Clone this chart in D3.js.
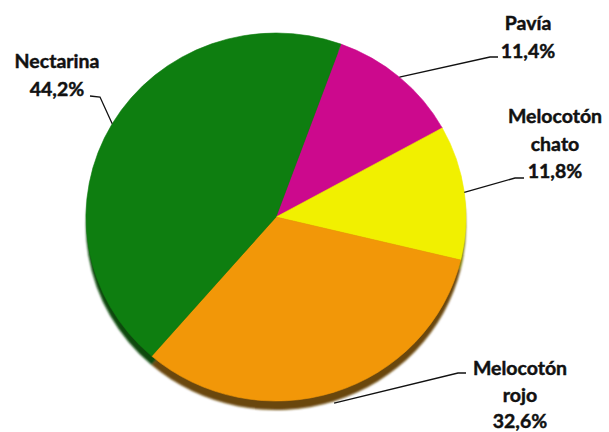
<!DOCTYPE html>
<html>
<head>
<meta charset="utf-8">
<script src="https://cdn.jsdelivr.net/npm/d3@7"></script>
<style>
  html, body { margin: 0; padding: 0; background: #fff; }
  svg { display: block; }
  text { font-family: Lato, "Open Sans", sans-serif; font-weight: 700; fill: #111; stroke: #111; stroke-width: 0.45px; }
</style>
</head>
<body>
<svg id="chart" width="609" height="432"></svg>
<script>
// Share of each peach variety (%), clockwise from the first slice
const categories = ["Pavía", "Melocotón chato", "Melocotón rojo", "Nectarina"];
const labelLines = [["Pavía"], ["Melocotón", "chato"], ["Melocotón", "rojo"], ["Nectarina"]];
const values = [11.4, 11.8, 32.6, 44.2];
const colors = ["#cc098d", "#f1f000", "#f29708", "#0e7e10"];
const sideColors = ["#6a0548", "#7a7800", "#6b4708", "#0a4a0a"];

// Label placement: block centre x, first baseline y, line gap, leader elbow
const labelLayout = [
  { x: 528, y: 30, gap: 27.5, elbow: [490, 57], start: [498, 57] },
  { x: 555, y: 123, gap: 27.5, elbow: [515, 178], start: [524, 178] },
  { x: 520, y: 375, gap: 26.5, elbow: [458, 373], start: [466, 373] },
  { x: 57, y: 68, gap: 27.5, elbow: [100, 97], start: [90, 96] }
];

const width = 609, height = 432;
const cx = 276, cy = 217, rx = 190, ry = 184, depth = 9;
const startDeg = 20;

const svg = d3.select("#chart");
const defs = svg.append("defs");
defs.append("filter").attr("id", "soft")
  .attr("x", "-10%").attr("y", "-10%").attr("width", "120%").attr("height", "120%")
  .append("feGaussianBlur").attr("stdDeviation", 1.2);

const pie = d3.pie().sort(null).value(d => d)
  .startAngle(startDeg * Math.PI / 180)
  .endAngle(startDeg * Math.PI / 180 + 2 * Math.PI);
const arcs = pie(values);
const arc = d3.arc().innerRadius(0).outerRadius(rx);

// Side wall / shadow below the tilted disc
svg.append("g")
  .attr("transform", `translate(${cx},${cy + depth}) scale(1,${ry / rx})`)
  .attr("filter", "url(#soft)")
  .selectAll("path").data(arcs).join("path")
  .attr("d", arc)
  .attr("fill", (d, i) => sideColors[i]);

// Top face
svg.append("g")
  .attr("transform", `translate(${cx},${cy}) scale(1,${ry / rx})`)
  .selectAll("path").data(arcs).join("path")
  .attr("d", arc)
  .attr("fill", (d, i) => colors[i])
  .attr("stroke", (d, i) => colors[i])
  .attr("stroke-width", 0.6);

// Leader lines from each slice's outer edge to its label
const fmt = v => d3.format(".1f")(v).replace(".", ",") + "%";
arcs.forEach((d, i) => {
  const mid = (d.startAngle + d.endAngle) / 2;
  let ex = cx + rx * Math.sin(mid);
  let ey = cy - ry * Math.cos(mid);
  if (Math.cos(mid) < -0.5) ey += depth + 2;
  const L = labelLayout[i];
  svg.append("path")
    .attr("d", d3.line()([L.start, L.elbow, [ex, ey]]))
    .attr("fill", "none")
    .attr("stroke", "#111")
    .attr("stroke-width", 1.3);

  const t = svg.append("text")
    .attr("text-anchor", "middle")
    .attr("font-size", 19.5);
  const lines = labelLines[i].concat([fmt(values[i])]);
  lines.forEach((s, k) => {
    t.append("tspan").attr("x", L.x).attr("y", L.y + k * L.gap).text(s);
  });
});
</script>
</body>
</html>
